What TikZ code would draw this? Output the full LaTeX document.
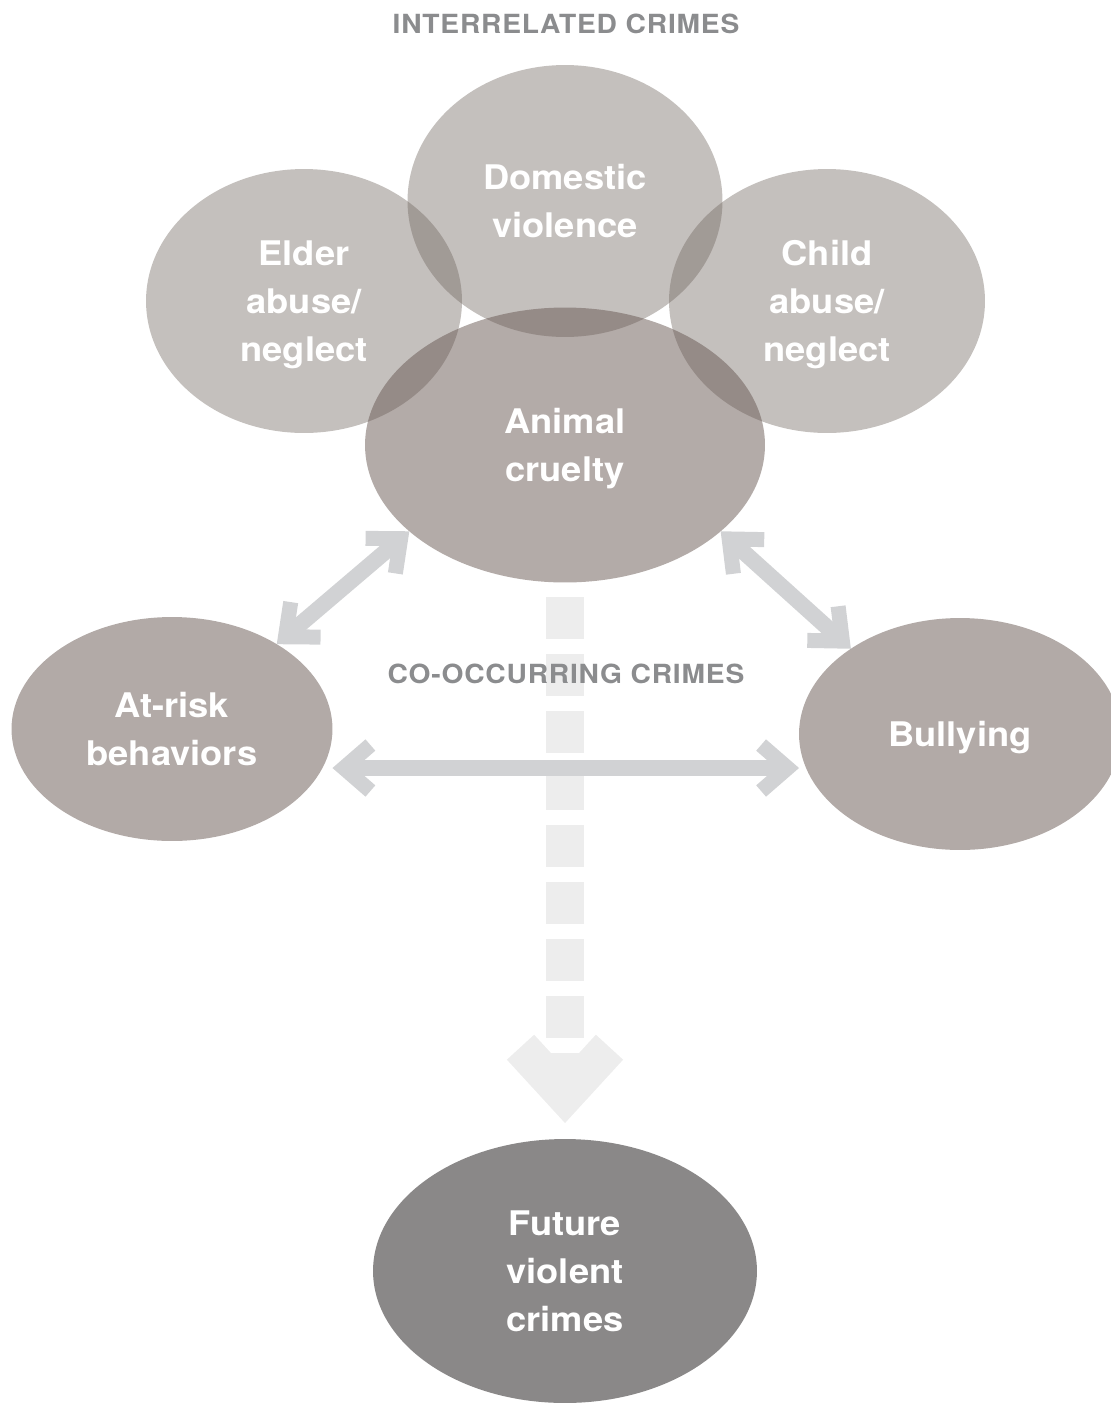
\documentclass[tikz,border=0pt]{standalone}
\usepackage{fontspec}
\setmainfont{TeX Gyre Heros}[FakeStretch=1.07]
\newfontfamily\titlefont{TeX Gyre Heros}[FakeStretch=1.07,LetterSpace=3]
\usepackage{tikz}
\usepackage{xcolor}
\usetikzlibrary{calc,shapes.geometric,arrows.meta}

\definecolor{topgrey}{RGB}{112,102,95}
\definecolor{animalgrey}{RGB}{103,87,81}
\definecolor{sidegrey}{RGB}{178,170,167}
\definecolor{futuregrey}{RGB}{138,136,136}
\definecolor{arrowgrey}{RGB}{209,210,212}
\definecolor{dashgrey}{RGB}{237,237,237}
\definecolor{titlegrey}{RGB}{139,140,142}

\begin{document}
\begin{tikzpicture}[x=0.02cm,y=-0.02cm]
        \tikzstyle{every node}=[inner sep=0pt, outer sep=0pt]
        \tikzstyle{crime}=[ellipse, text=white, align=center, text depth=0pt, font=\bfseries\fontsize{19.3}{27.3}\selectfont]
        \tikzstyle{heading}=[text=titlegrey, anchor=base, font=\titlefont\bfseries\fontsize{15}{18}\selectfont]
        \tikzstyle{twoway}=[draw=arrowgrey, line width=0.32cm, >={Straight Barb[length=0.53cm,width=0.92cm,line width=0.3cm,sharp]}, <->]
        \tikzstyle{lead}=[draw=dashgrey, line width=0.76cm, dash pattern=on 0.83cm off 0.31cm, -{Straight Barb[length=0.97cm,width=1.78cm,line width=0.74cm,sharp]}]
        \useasboundingbox (0,0) rectangle (1111,1404);

        % interrelated crimes
        \node[heading] (8) at (566,33) {INTERRELATED CRIMES};
        \node[crime, fill=topgrey, fill opacity=0.41, text opacity=1, minimum width=6.3cm, minimum height=5.44cm] (1) at (565,201) {Domestic\\violence};
        \node[crime, fill=topgrey, fill opacity=0.41, text opacity=1, minimum width=6.32cm, minimum height=5.28cm] (2) at (304,301) {Elder\\abuse/\\neglect};
        \node[crime, fill=topgrey, fill opacity=0.41, text opacity=1, minimum width=6.32cm, minimum height=5.28cm] (3) at (827,301) {Child\\abuse/\\neglect};
        \node[crime, fill=animalgrey, fill opacity=0.5, text opacity=1, minimum width=8cm, minimum height=5.5cm] (4) at (565,445) {Animal\\cruelty};

        % co-occurring crimes
        \node[crime, fill=sidegrey, minimum width=6.42cm, minimum height=4.48cm] (5) at (172,729) {At-risk\\behaviors};
        \node[crime, fill=sidegrey, minimum width=6.44cm, minimum height=4.64cm] (6) at (960,734) {Bullying};
        \node[crime, fill=futuregrey, minimum width=7.68cm, minimum height=5.28cm] (7) at (565,1271) {Future\\violent\\crimes};

        \draw[lead] ($(4.south)+(0,15)$) -- ($(7.north)+(0,-16)$);

        \coordinate (10) at ($(5.east)+(0,39)$);
        \coordinate (11) at ($(6.west)+(0,34)$);
        \draw[twoway] (5.39) to (4.209);
        \draw[twoway] (4.331) to (6.142);
        \draw[twoway] (10) to (11);

        \node[heading] (9) at (566,683) {CO-OCCURRING CRIMES};
\end{tikzpicture}
\end{document}
